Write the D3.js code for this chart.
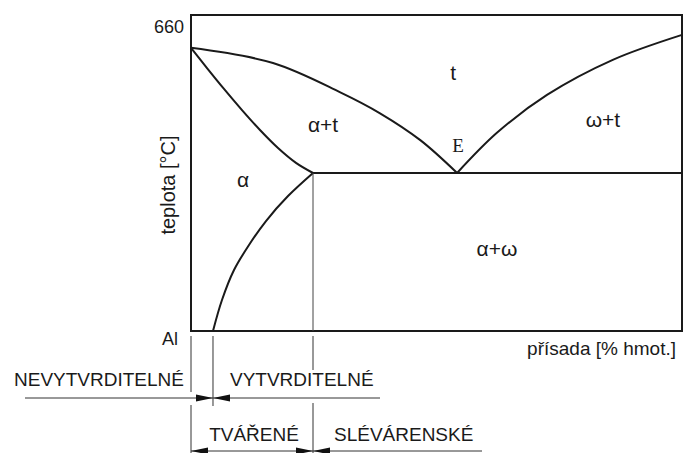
<!DOCTYPE html>
<html>
<head>
<meta charset="utf-8">
<script src="https://cdn.jsdelivr.net/npm/d3@7"></script>
<style>
  body { margin: 0; background: #fff; }
  text { font-family: "Liberation Sans", Arial, sans-serif; fill: #1a1a1a; }
</style>
</head>
<body>
<div id="chart"></div>
<script>
// phase diagram Al - prisada, data in relative units (composition 0-100, temperature 0-100)

const liquidusLeftC = [0, 16.7, 30.3, 38.5, 46.7, 54.2];
const liquidusLeftT = [89.6, 84.8, 75.6, 68.9, 60.4, 50.0];
const solidusC = [0, 3.26, 6.72, 10.39, 14.05, 17.72, 21.38, 24.85];
const solidusT = [89.6, 83.2, 76.6, 69.9, 63.6, 57.9, 53.2, 50.0];
const solvusC = [4.48, 6.31, 8.76, 11.81, 15.27, 19.76, 24.85];
const solvusT = [0, 9.8, 19.3, 27.2, 34.8, 42.7, 50.0];
const liquidusRightC = [54.2, 62.3, 72.5, 85.9, 100];
const liquidusRightT = [50.0, 62.7, 74.7, 85.8, 93.7];
const eutecticT = 50.0;
const maxSolubilityC = 24.85;
const minSolubilityC = 4.48;

const phaseNames = ['t', 'α+t', 'α', 'ω+t', 'α+ω'];
const phaseC = [53.4, 26.9, 10.6, 83.9, 62.3];
const phaseT = [79.4, 63.0, 45.6, 64.6, 23.7];

const tempTickLabel = '660';
const baseLabel = 'Al';
const xTitle = 'přísada [% hmot.]';
const yTitle = 'teplota [°C]';

const row1Names = ['NEVYTVRDITELNÉ', 'VYTVRDITELNÉ'];
const row2Names = ['TVÁŘENÉ', 'SLÉVÁRENSKÉ'];

const width = 685, height = 453;
const margin = { left: 191, right: 3, top: 15, bottom: 122 };

const svg = d3.select('#chart')
  .append('svg')
  .attr('width', width)
  .attr('height', height);

const x = d3.scaleLinear().domain([0, 100]).range([margin.left, width - margin.right]);
const y = d3.scaleLinear().domain([0, 100]).range([height - margin.bottom, margin.top]);

const ink = '#1a1a1a';

// frame
svg.append('rect')
  .attr('x', x(0)).attr('y', y(100))
  .attr('width', x(100) - x(0)).attr('height', y(0) - y(100))
  .attr('fill', 'none').attr('stroke', ink).attr('stroke-width', 2);

const line = d3.line()
  .x(d => x(d[0]))
  .y(d => y(d[1]))
  .curve(d3.curveCatmullRom.alpha(0.5));

const curves = [
  [liquidusLeftC, liquidusLeftT],
  [solidusC, solidusT],
  [solvusC, solvusT],
  [liquidusRightC, liquidusRightT]
];
curves.forEach(([cs, ts]) => {
  svg.append('path')
    .datum(cs.map((c, i) => [c, ts[i]]))
    .attr('d', line)
    .attr('fill', 'none')
    .attr('stroke', ink)
    .attr('stroke-width', 2);
});

// eutectic line
svg.append('line')
  .attr('x1', x(maxSolubilityC)).attr('x2', x(100))
  .attr('y1', y(eutecticT)).attr('y2', y(eutecticT))
  .attr('stroke', ink).attr('stroke-width', 2);

// thin vertical at max solubility
svg.append('line')
  .attr('x1', x(maxSolubilityC)).attr('x2', x(maxSolubilityC))
  .attr('y1', y(eutecticT)).attr('y2', y(0))
  .attr('stroke', '#444').attr('stroke-width', 1);

// labels of phases
svg.selectAll('.phase')
  .data(phaseNames)
  .enter()
  .append('text')
    .attr('class', 'phase')
    .attr('x', (d, i) => x(phaseC[i]))
    .attr('y', (d, i) => y(phaseT[i]))
    .attr('text-anchor', 'middle')
    .style('font-size', '21px')
    .text(d => d);

svg.append('text')
  .attr('x', x(54.4)).attr('y', y(56.6))
  .attr('text-anchor', 'middle')
  .style('font-family', '"Liberation Serif", "Times New Roman", serif')
  .style('font-size', '19px')
  .text('E');

// axis texts
svg.append('text')
  .attr('x', x(0) - 7).attr('y', y(100) + 18)
  .attr('text-anchor', 'end')
  .style('font-size', '18px')
  .text(tempTickLabel);

svg.append('text')
  .attr('x', x(0) - 13).attr('y', y(0) + 14)
  .attr('text-anchor', 'end')
  .style('font-size', '18px')
  .text(baseLabel);

svg.append('text')
  .attr('x', width - 9).attr('y', y(0) + 24)
  .attr('text-anchor', 'end')
  .style('font-size', '19px')
  .text(xTitle);

svg.append('text')
  .attr('transform', `translate(${x(0) - 16}, ${y(0) - 146}) rotate(-90)`)
  .attr('text-anchor', 'middle')
  .style('font-size', '20px')
  .text(yTitle);

// bottom classification
const row1Y = 398, row2Y = 451;
const thin = '#333';

const ext = [
  [x(0), 336, 392], [x(0), 405, height],
  [x(minSolubilityC), 336, 406],
  [x(maxSolubilityC), 336, 370], [x(maxSolubilityC), 403, height]
];
ext.forEach(e => {
  svg.append('line')
    .attr('x1', e[0]).attr('x2', e[0]).attr('y1', e[1]).attr('y2', e[2])
    .attr('stroke', thin).attr('stroke-width', 1);
});

svg.append('line')
  .attr('x1', 25).attr('x2', 380).attr('y1', row1Y).attr('y2', row1Y)
  .attr('stroke', thin).attr('stroke-width', 1);
svg.append('line')
  .attr('x1', x(0)).attr('x2', 482).attr('y1', row2Y).attr('y2', row2Y)
  .attr('stroke', thin).attr('stroke-width', 1);

function arrow(tipX, yy, dir) {
  // dir = 1 points right, -1 points left
  const len = 17, hw = 3.5;
  svg.append('path')
    .attr('d', `M${tipX},${yy} L${tipX - dir * len},${yy - hw} L${tipX - dir * len},${yy + hw} Z`)
    .attr('fill', '#111');
}
arrow(x(minSolubilityC), row1Y, 1);
arrow(x(minSolubilityC), row1Y, -1);
arrow(x(0), row2Y, -1);
arrow(x(maxSolubilityC), row2Y, 1);
arrow(x(maxSolubilityC), row2Y, -1);

svg.append('text')
  .attr('x', x(0) - 7).attr('y', 386)
  .attr('text-anchor', 'end')
  .style('font-size', '19px')
  .text(row1Names[0]);
svg.append('text')
  .attr('x', 230).attr('y', 386)
  .style('font-size', '19px')
  .text(row1Names[1]);
svg.append('text')
  .attr('x', (x(0) + x(maxSolubilityC)) / 2 + 2).attr('y', 441)
  .attr('text-anchor', 'middle')
  .style('font-size', '19px')
  .text(row2Names[0]);
svg.append('text')
  .attr('x', 334).attr('y', 441)
  .style('font-size', '19px')
  .text(row2Names[1]);
</script>
</body>
</html>
